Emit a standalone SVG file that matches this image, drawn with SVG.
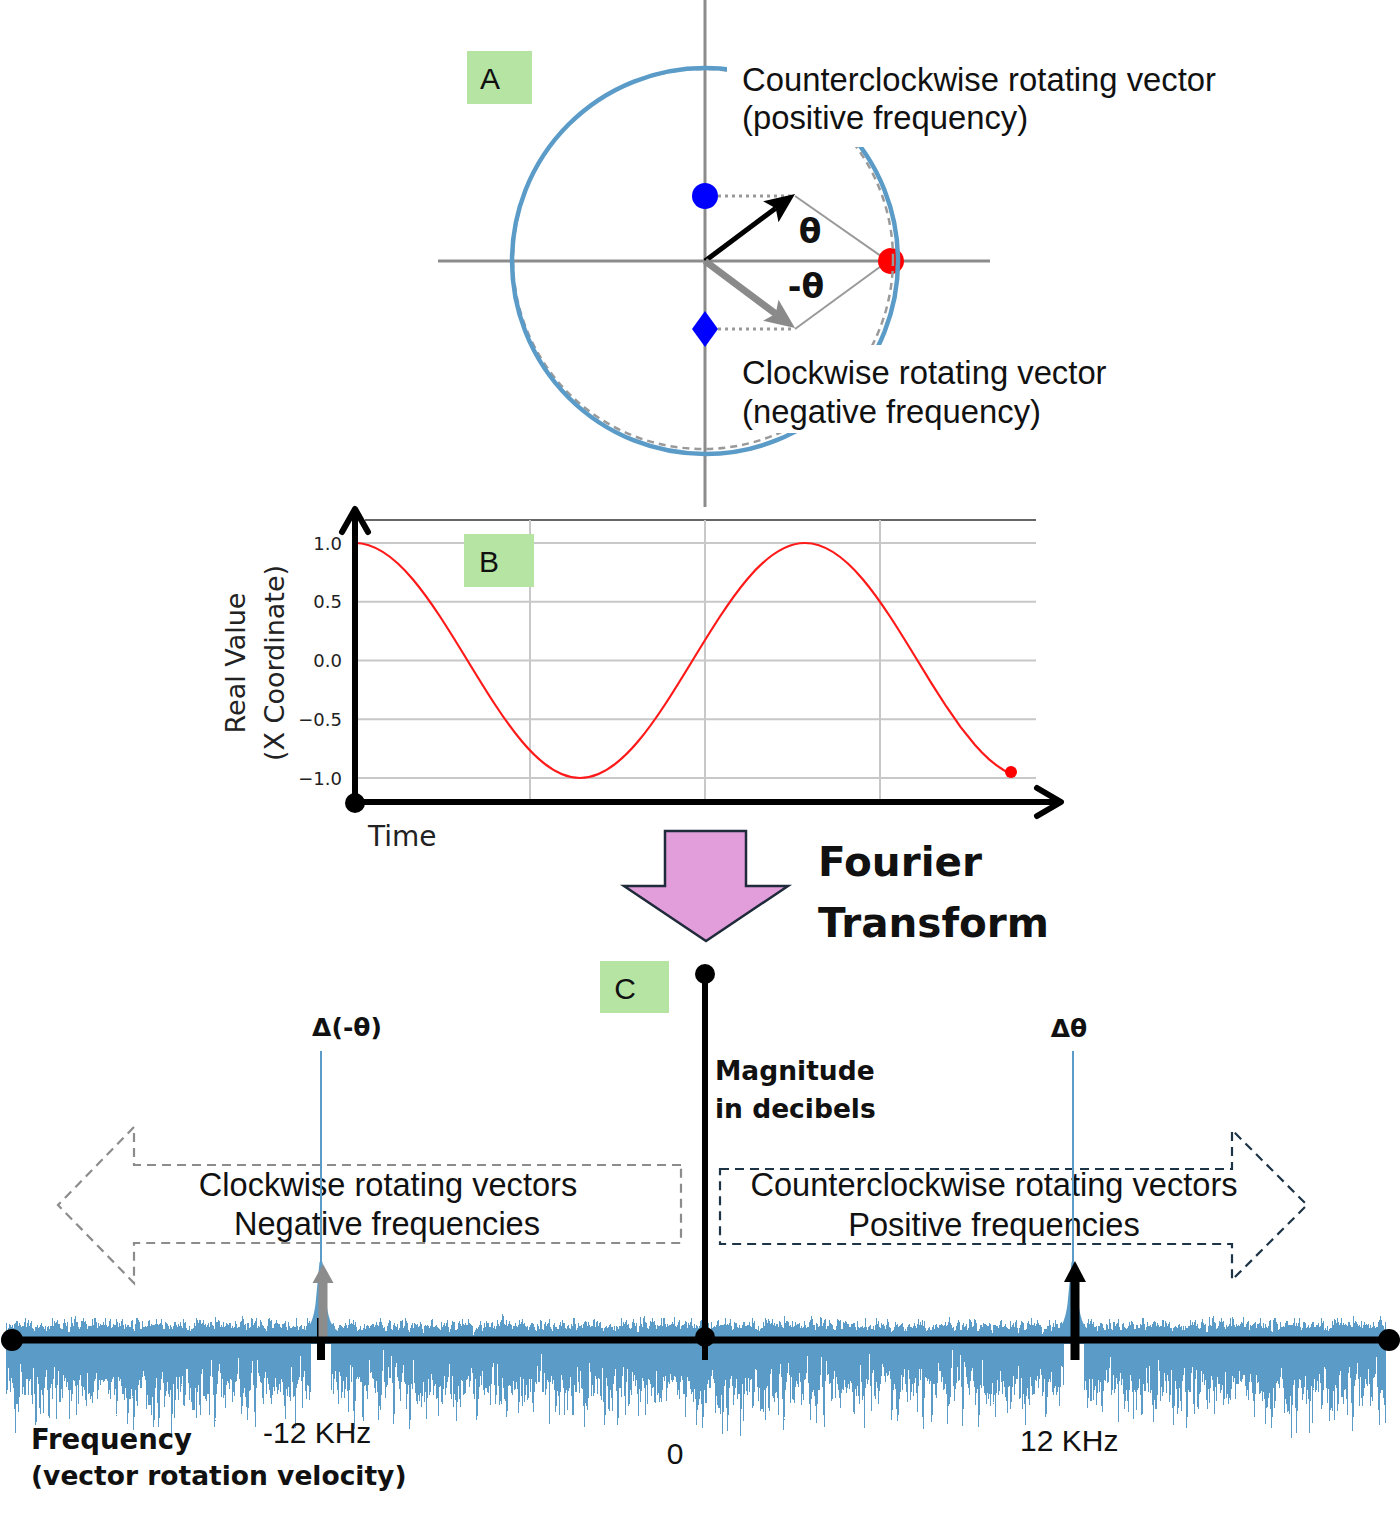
<svg xmlns="http://www.w3.org/2000/svg" width="1400" height="1521" viewBox="0 0 1400 1521">
<style>
.lbl{font-family:"Liberation Sans",Arial,sans-serif;fill:#111}
.dv{font-family:"DejaVu Sans",sans-serif;fill:#222}
.dvb{font-family:"DejaVu Sans",sans-serif;font-weight:bold;fill:#111}
.tag{fill:#b5e4a3}
.grid{stroke:#c8c8c8;stroke-width:2;fill:none}
.axA{stroke:#8c8c8c;stroke-width:3}
.thin{stroke:#999;stroke-width:2;fill:none}
.dot{stroke:#999;stroke-width:3;stroke-dasharray:3 4;fill:none}
.blk{stroke:#000;fill:none;stroke-linecap:round;stroke-linejoin:round}
.spec{fill:#5b9bc8}
</style>
<defs>
<linearGradient id="gBot" gradientUnits="userSpaceOnUse" x1="0" y1="1336" x2="0" y2="1442">
<stop offset="0" stop-color="#000" stop-opacity="0"/>
<stop offset="0.3" stop-color="#000" stop-opacity="0.28"/>
<stop offset="0.557" stop-color="#000" stop-opacity="0.55"/>
<stop offset="1" stop-color="#000" stop-opacity="0.86"/>
</linearGradient>
<linearGradient id="gTop" gradientUnits="userSpaceOnUse" x1="0" y1="1337" x2="0" y2="1313">
<stop offset="0" stop-color="#000" stop-opacity="0"/>
<stop offset="0.29" stop-color="#000" stop-opacity="0.3"/>
<stop offset="0.54" stop-color="#000" stop-opacity="0.55"/>
<stop offset="1" stop-color="#000" stop-opacity="0.88"/>
</linearGradient>
<filter id="nBot" filterUnits="userSpaceOnUse" primitiveUnits="userSpaceOnUse" x="6" y="1336" width="1380" height="106" color-interpolation-filters="sRGB">
<feTurbulence type="fractalNoise" baseFrequency="0.45 0.0005" numOctaves="3" seed="7" result="t"/>
<feColorMatrix in="t" type="matrix" values="0 0 0 0 0 0 0 0 0 0 0 0 0 0 0 1 0 0 0 0" result="n"/>
<feComposite in="n" in2="SourceAlpha" operator="arithmetic" k1="0" k2="1" k3="-1" k4="0.5" result="d"/>
<feComponentTransfer in="d" result="m"><feFuncA type="discrete" tableValues="0 1"/></feComponentTransfer>
<feFlood flood-color="#5b9bc8" result="f"/>
<feComposite in="f" in2="m" operator="in"/>
</filter>
<filter id="nTop" filterUnits="userSpaceOnUse" primitiveUnits="userSpaceOnUse" x="6" y="1313" width="1380" height="24" color-interpolation-filters="sRGB">
<feTurbulence type="fractalNoise" baseFrequency="0.45 0.0005" numOctaves="3" seed="19" result="t"/>
<feColorMatrix in="t" type="matrix" values="0 0 0 0 0 0 0 0 0 0 0 0 0 0 0 1 0 0 0 0" result="n"/>
<feComposite in="n" in2="SourceAlpha" operator="arithmetic" k1="0" k2="1" k3="-1" k4="0.5" result="d"/>
<feComponentTransfer in="d" result="m"><feFuncA type="discrete" tableValues="0 1"/></feComponentTransfer>
<feFlood flood-color="#5b9bc8" result="f"/>
<feComposite in="f" in2="m" operator="in"/>
</filter>
</defs>
<rect width="1400" height="1521" fill="#fff"/>

<!-- Section A -->
<g id="panelA">
<line class="axA" x1="705" y1="0" x2="705" y2="507"/>
<line class="axA" x1="438" y1="261" x2="990" y2="261"/>
<line class="thin" x1="795" y1="196" x2="888" y2="261"/>
<line class="thin" x1="795" y1="329" x2="888" y2="261"/>
<line class="dot" x1="718" y1="196" x2="795" y2="196"/>
<line class="dot" x1="718" y1="329" x2="795" y2="329"/>
<circle cx="891" cy="261" r="13" fill="#ff0000"/>
<circle cx="703" cy="259" r="190" fill="none" stroke="#9a9a9a" stroke-width="2.5" stroke-dasharray="7 5"/>
<circle cx="705" cy="261" r="193" fill="none" stroke="#5b9bc8" stroke-width="4.5"/>
<rect x="727" y="44" width="540" height="103" fill="#fff"/>
<rect x="727" y="345" width="405" height="88" fill="#fff"/>
<text class="lbl" x="742" y="91" font-size="32.8">Counterclockwise rotating vector</text>
<text class="lbl" x="742" y="129" font-size="32.8">(positive frequency)</text>
<text class="lbl" x="742" y="384" font-size="32.8">Clockwise rotating vector</text>
<text class="lbl" x="742" y="423" font-size="32.8">(negative frequency)</text>
<circle cx="705" cy="196" r="13" fill="#0000ff"/>
<polygon points="705,311 718,329 705,347 692,329" fill="#0000ff"/>
<text class="dvb" x="810" y="243" font-size="33" text-anchor="middle">θ</text>
<text class="dvb" x="806" y="298" font-size="33" text-anchor="middle">-θ</text>
</g>
<g id="tagA"><rect class="tag" x="467" y="51" width="65" height="53"/><text class="lbl" x="490" y="89" font-size="30" text-anchor="middle">A</text></g>

<!-- Section B -->
<g id="panelB">
<line x1="365" y1="520" x2="1036" y2="520" stroke="#666" stroke-width="2"/>
<path class="grid" d="M355 543H1036M355 601.75H1036M355 660.5H1036M355 719.25H1036M355 778H1036M530 520V803M705 520V803M880 520V803"/>
<path d="M355 543 C395.72 543 430.81 600.3 467.5 660.5 C504.19 720.7 539.29 778 580 778 C620.72 778 655.81 720.7 692.5 660.5 C729.19 600.3 764.29 543 805 543 C845.72 543 880.81 600.3 917.5 660.5 L931.82 683.85 L946.15 706.25 L960.47 726.84 L974.8 744.79 L981.96 752.54 L989.12 759.38 L996.28 765.22 L1003.44 770.01 L1011 773.9" fill="none" stroke="#ff1a1a" stroke-width="2.2"/>
<circle cx="1011" cy="772" r="6" fill="#ff0000"/>
<line class="blk" x1="355" y1="803" x2="355" y2="510" stroke-width="6"/>
<polyline class="blk" points="342,532 355,509 368,532" stroke-width="6"/>
<line class="blk" x1="355" y1="802" x2="1058" y2="802" stroke-width="6"/>
<polyline class="blk" points="1037,788 1061,802 1037,816" stroke-width="6"/>
<circle cx="355" cy="803" r="10" fill="#000"/>
<g class="dv" font-size="18" text-anchor="end">
<text x="342" y="550">1.0</text>
<text x="342" y="608">0.5</text>
<text x="342" y="667">0.0</text>
<text x="342" y="726">−0.5</text>
<text x="342" y="785">−1.0</text>
</g>
<text class="dv" font-size="27" text-anchor="middle" transform="translate(245,663) rotate(-90)" fill="#111">Real Value</text>
<text class="dv" font-size="27" text-anchor="middle" transform="translate(284,663) rotate(-90)" fill="#111">(X Coordinate)</text>
<text class="dv" x="368" y="846" font-size="28" fill="#111">Time</text>
</g>
<g id="tagB"><rect class="tag" x="464" y="534" width="70" height="53"/><text class="lbl" x="489" y="572" font-size="30" text-anchor="middle">B</text></g>

<!-- Fourier transform -->
<g id="fourier">
<polygon points="665,831 746,831 746,886 788,886 706,941 624,886 665,886" fill="#e29edb" stroke="#1f2a3a" stroke-width="2.5" stroke-linejoin="miter"/>
<text class="dvb" x="818" y="876" font-size="40.5">Fourier</text>
<text class="dvb" x="818" y="937" font-size="40.5">Transform</text>
</g>

<!-- Section C -->
<g id="tagC"><rect class="tag" x="600" y="961" width="69" height="52"/><text class="lbl" x="625" y="999" font-size="30" text-anchor="middle">C</text></g>

<g id="bandNeg">
<polygon points="681,1165 134,1165 134,1127 58,1205 134,1283 134,1243 681,1243" fill="none" stroke="#8c8c8c" stroke-width="2.2" stroke-dasharray="9 6"/>
<text class="lbl" x="388" y="1196" font-size="32.6" text-anchor="middle">Clockwise rotating vectors</text>
<text class="lbl" x="387" y="1235" font-size="32.6" text-anchor="middle">Negative frequencies</text>
</g>
<g id="bandPos">
<polygon points="720,1169 1232,1169 1232,1130 1307,1205 1232,1280 1232,1244 720,1244" fill="none" stroke="#1d3446" stroke-width="2.2" stroke-dasharray="9 6"/>
<text class="lbl" x="994" y="1196" font-size="32.6" text-anchor="middle">Counterclockwise rotating vectors</text>
<text class="lbl" x="994" y="1236" font-size="32.6" text-anchor="middle">Positive frequencies</text>
</g>

<g id="spectrum">
<rect x="6" y="1313" width="1380" height="24" fill="url(#gTop)" filter="url(#nTop)"/>
<rect x="6" y="1336" width="1380" height="106" fill="url(#gBot)" filter="url(#nBot)"/>
<rect x="311" y="1344" width="20" height="102" fill="#fff"/>
<rect x="1064" y="1344" width="20" height="102" fill="#fff"/>
<path class="spec" d="M296 1334 C309 1332 313 1322 315.5 1304 L319.5 1262 L322.5 1262 L326.5 1304 C329 1322 333 1332 346 1334 Z"/>
<path class="spec" d="M1048 1334 C1061 1332 1065 1322 1067.5 1304 L1071.5 1262 L1074.5 1262 L1078.5 1304 C1081 1322 1085 1332 1098 1334 Z"/>
<line x1="321" y1="1051" x2="321" y2="1320" stroke="#5b9bc8" stroke-width="2"/>
<line x1="1073" y1="1051" x2="1073" y2="1320" stroke="#5b9bc8" stroke-width="2"/>
</g>

<g id="connectors">
<line x1="705" y1="261" x2="775.7" y2="208.2" stroke="#000" stroke-width="5"/>
<polygon points="795,194 778.5,222.2 775.7,208.2 763.1,201.3" fill="#000"/>
<line x1="705" y1="261" x2="775.7" y2="313.8" stroke="#8a8a8a" stroke-width="7"/>
<polygon points="795,328 763.1,320.8 775.7,313.8 778.5,299.8" fill="#8a8a8a"/>
<rect x="317" y="1318" width="8" height="42" fill="#000"/>
<rect x="318.5" y="1281" width="9" height="59" fill="#8c8c8c"/>
<polygon points="312.5,1283 323,1264 333.5,1283" fill="#8c8c8c"/>
<rect x="1070.5" y="1280" width="9" height="80" fill="#000"/>
<polygon points="1064,1282 1075,1261 1086,1282" fill="#000"/>
<line x1="12" y1="1340" x2="1389" y2="1340" stroke="#000" stroke-width="7"/>
<line x1="705" y1="974" x2="705" y2="1360" stroke="#000" stroke-width="6"/>
<circle cx="705" cy="974" r="10" fill="#000"/>
<circle cx="705" cy="1337" r="10" fill="#000"/>
<circle cx="12" cy="1340" r="11" fill="#000"/>
<circle cx="1389" cy="1340" r="11" fill="#000"/>
</g>

<g id="labelsC">
<text class="dvb" x="715" y="1080" font-size="26.5">Magnitude</text>
<text class="dvb" x="715" y="1118" font-size="26.5">in decibels</text>
<text class="dvb" x="347" y="1036" font-size="25" text-anchor="middle">Δ(-θ)</text>
<text class="dvb" x="1069" y="1037" font-size="25" text-anchor="middle">Δθ</text>
<text class="dvb" x="31" y="1449" font-size="27.5">Frequency</text>
<text class="dvb" x="31" y="1485" font-size="26.5">(vector rotation velocity)</text>
<text class="lbl" x="263" y="1443" font-size="30">-12 KHz</text>
<text class="lbl" x="1020" y="1451" font-size="30">12 KHz</text>
<text class="lbl" x="675" y="1464" font-size="30" text-anchor="middle">0</text>
</g>
</svg>
